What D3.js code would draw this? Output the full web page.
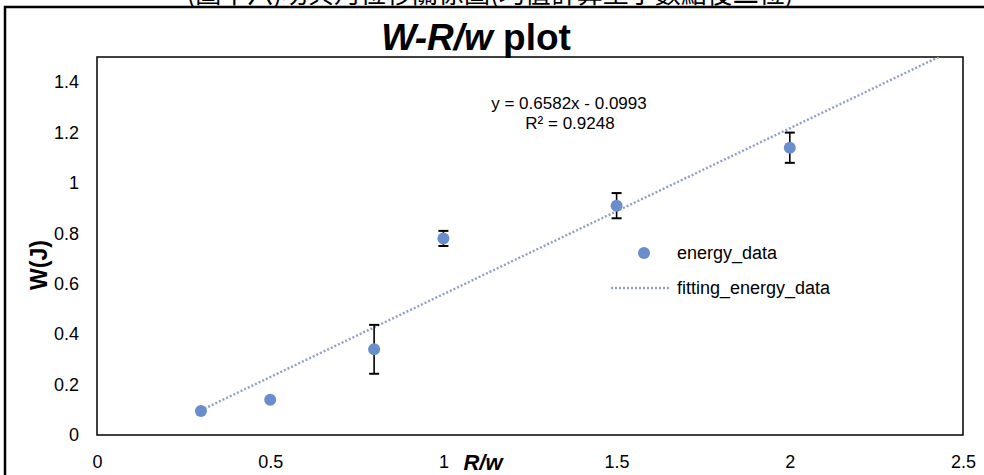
<!DOCTYPE html>
<html><head><meta charset="utf-8">
<script src="https://cdn.jsdelivr.net/npm/d3@7"></script>
<style>body{margin:0;background:#fff;} svg{display:block;font-family:Arial,"Liberation Sans",sans-serif;}</style>
</head><body>
<svg id="c" width="984" height="475"></svg>
<script>
const xs = [0.3, 0.5, 0.8, 1.0, 1.5, 2.0];
const ys = [0.095, 0.14, 0.34, 0.78, 0.91, 1.14];
const errs = [0.0, 0.0, 0.097, 0.03, 0.05, 0.06];
const xTicks = [0, 0.5, 1, 1.5, 2, 2.5];
const yTicks = [0, 0.2, 0.4, 0.6, 0.8, 1, 1.2, 1.4];
const slope = 0.6582, intercept = -0.0993;
const eqText = "y = 0.6582x - 0.0993";
const r2Text = "R² = 0.9248";
const seriesNames = ["energy_data", "fitting_energy_data"];
const topCaption = "(圖十六)功與角位移關係圖(均值計算至小數點後二位)";

const svg = d3.select("#c");
const L = 97, R = 963, T = 57, B = 435;
const x = d3.scaleLinear().domain([0, 2.5]).range([L, R]);
const y = d3.scaleLinear().domain([0, 1.5]).range([B, T]);

// partially cut caption at very top (as in the reference)
svg.append("text").attr("x", 490).attr("y", 3).attr("text-anchor", "middle")
  .attr("font-family", "'Noto Sans CJK TC','Noto Sans CJK SC',sans-serif")
  .attr("font-size", 26).attr("fill", "#000").text(topCaption);

// outer frame
svg.append("path").attr("d", `M5,480 L5,7 L990,7`).attr("fill", "none")
  .attr("stroke", "#000").attr("stroke-width", 2.5);

// title
const title = svg.append("text").attr("x", 476).attr("y", 50).attr("text-anchor", "middle")
  .attr("font-size", 37).attr("font-weight", "bold").attr("fill", "#000");
title.append("tspan").attr("font-style", "italic").text("W-R/w");
title.append("tspan").text(" plot");

// plot box
svg.append("rect").attr("x", L).attr("y", T).attr("width", R - L).attr("height", B - T)
  .attr("fill", "none").attr("stroke", "#000").attr("stroke-width", 1.5);

// axes labels via d3 axes (no lines)
const xAxis = svg.append("g").attr("transform", `translate(0,${B + 17})`)
  .call(d3.axisBottom(x).tickValues(xTicks).tickSize(0).tickFormat(d3.format("")));
xAxis.select(".domain").remove();
xAxis.selectAll("text").attr("font-size", 18).attr("fill", "#000")
  .attr("font-family", "Arial,'Liberation Sans',sans-serif");

const yAxis = svg.append("g").attr("transform", `translate(${L - 15},0)`)
  .call(d3.axisLeft(y).tickValues(yTicks).tickSize(0).tickFormat(d3.format("")));
yAxis.select(".domain").remove();
yAxis.selectAll("text").attr("font-size", 18).attr("fill", "#000")
  .attr("font-family", "Arial,'Liberation Sans',sans-serif");

// axis titles
svg.append("text").attr("x", 483).attr("y", 470).attr("text-anchor", "middle")
  .attr("font-size", 22).attr("font-weight", "bold").attr("font-style", "italic").text("R/w");
svg.append("text").attr("transform", "translate(47,265) rotate(-90)").attr("text-anchor", "middle")
  .attr("font-size", 23).attr("font-weight", "bold").text("W(J)");

// clip
svg.append("clipPath").attr("id", "clip").append("rect")
  .attr("x", L).attr("y", T).attr("width", R - L).attr("height", B - T);

// trendline
const xMin = d3.min(xs);
const lineData = [xMin, 2.5].map(v => [v, slope * v + intercept]);
svg.append("path").attr("clip-path", "url(#clip)")
  .attr("d", d3.line().x(d => x(d[0])).y(d => y(d[1]))(lineData))
  .attr("fill", "none").attr("stroke", "#8fa0c0").attr("stroke-width", 2.4)
  .attr("stroke-dasharray", "2,2");

// error bars
const eb = svg.append("g");
xs.forEach((xv, i) => {
  if (errs[i] <= 0) return;
  const cx = x(xv), y1 = y(ys[i] + errs[i]), y2 = y(ys[i] - errs[i]);
  eb.append("line").attr("x1", cx).attr("x2", cx).attr("y1", y1).attr("y2", y2).attr("stroke", "#000").attr("stroke-width", 1.6);
  [y1, y2].forEach(yy => eb.append("line").attr("x1", cx - 5).attr("x2", cx + 5).attr("y1", yy).attr("y2", yy).attr("stroke", "#000").attr("stroke-width", 2));
});

// points
svg.append("g").selectAll("circle").data(xs).join("circle")
  .attr("cx", d => x(d)).attr("cy", (d, i) => y(ys[i])).attr("r", 6)
  .attr("fill", "#6a8dcc");

// equation
svg.append("text").attr("x", 569).attr("y", 109).attr("text-anchor", "middle").attr("font-size", 17).text(eqText);
svg.append("text").attr("x", 570).attr("y", 129).attr("text-anchor", "middle").attr("font-size", 17).text(r2Text);

// legend
svg.append("circle").attr("cx", 644).attr("cy", 253).attr("r", 6).attr("fill", "#6a8dcc");
svg.append("text").attr("x", 677).attr("y", 259).attr("font-size", 18).text(seriesNames[0]);
svg.append("line").attr("x1", 611).attr("x2", 669).attr("y1", 288).attr("y2", 288)
  .attr("stroke", "#8fa0c0").attr("stroke-width", 2.4).attr("stroke-dasharray", "2,2");
svg.append("text").attr("x", 677).attr("y", 294).attr("font-size", 18).text(seriesNames[1]);
</script>
</body></html>
